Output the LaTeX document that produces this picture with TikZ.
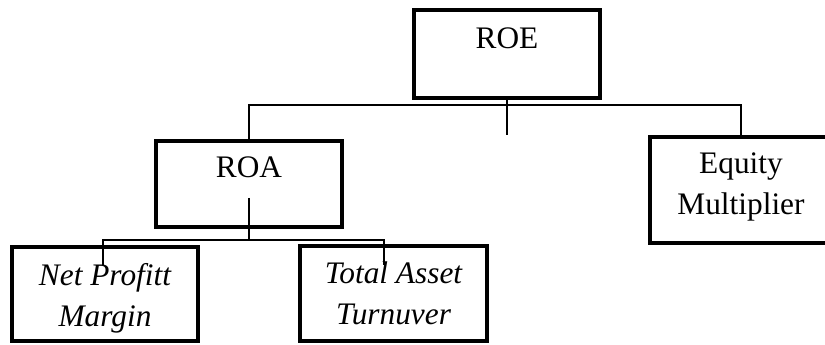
\documentclass[tikz,border=0pt]{standalone}
\usepackage{fontspec}
\setmainfont{Liberation Serif}
\usetikzlibrary{positioning}

\begin{document}
\begin{tikzpicture}[x=0.75pt, y=-0.75pt,
  box/.style={draw, line width=3.3pt, inner sep=0pt},
  txt/.style={inner sep=0pt, align=center, font=\fontsize{23.5}{30.5}\selectfont},
  link/.style={line width=1pt}]

\clip (0,0) rectangle (825,345);

% boxes
\node[box, minimum width=139.5pt, minimum height=66pt] (roe) at (507,54) {};
\node[box, minimum width=139.5pt, minimum height=64.5pt] (roa) at (249,184) {};
\node[box, minimum width=136.5pt, minimum height=79.5pt] (equity) at (741,190) {};
\node[box, minimum width=139.5pt, minimum height=70.5pt] (npm) at (105,294) {};
\node[box, minimum width=140.25pt, minimum height=71.25pt] (tat) at (393.5,293.5) {};

% texts
\node[txt, below=15pt of roe.north] (roetxt) {ROE};
\node[txt, below=13pt of roa.north] (roatxt) {ROA};
\node[txt, below=13.5pt of equity.north] (equitytxt) {Equity\\Multiplier};
\node[txt, font=\fontsize{23.5}{30.5}\selectfont\itshape, below=14pt of npm.north] (npmtxt) {Net Profitt\\Margin};
\node[txt, font=\fontsize{23.5}{30.5}\selectfont\itshape, below=13.5pt of tat.north] (tattxt) {Total Asset\\Turnuver};

% connectors
\coordinate (bus) at (507,105);
\coordinate (roeend) at (507,135);
\coordinate (roastart) at (249,198);
\coordinate (roabus) at (249,240);
\coordinate (npmend) at (103,265);
\coordinate (tatend) at (384,265);

\draw[link] (roe.south) -- (roeend);
\draw[link] (roa.north) |- (bus) -| (equity.north);
\draw[link] (roastart) -- (roabus);
\draw[link] (npmend) |- (roabus) -| (tatend);
\end{tikzpicture}
\end{document}
